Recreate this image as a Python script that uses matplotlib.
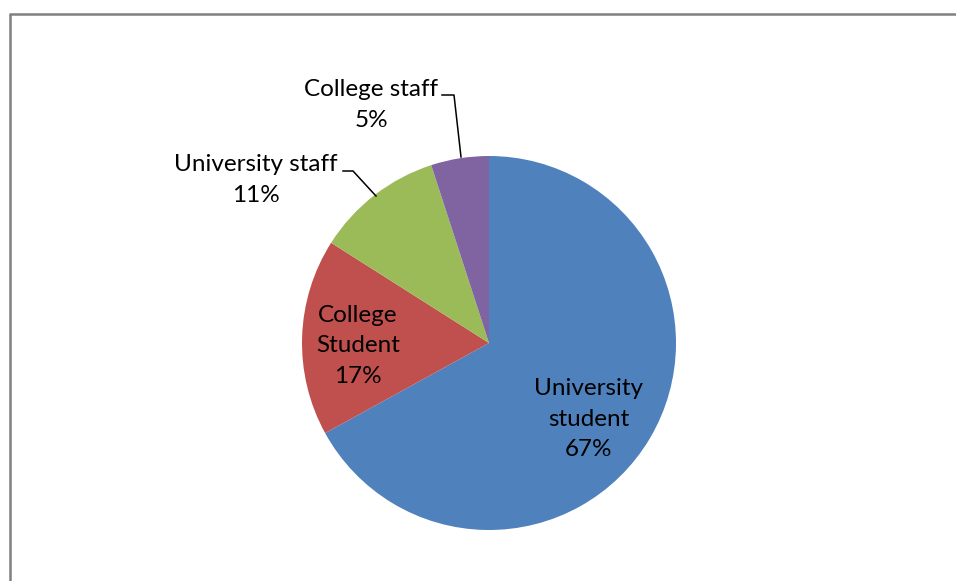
import matplotlib.pyplot as plt
import numpy as np

labels = ["University\nstudent", "College\nStudent", "University staff", "College staff"]
shares = [67, 17, 11, 5]
colors = ["#4F81BD", "#C0504D", "#9BBB59", "#8064A2"]

W, H = 956, 581
plt.rcParams["font.family"] = ["Lato", "DejaVu Sans"]

fig = plt.figure(figsize=(W / 100, H / 100), dpi=100)
ax = fig.add_axes([0, 0, 1, 1])

cx, cy, r = 489, H - 343, 187
wedges, _ = ax.pie(shares, colors=colors, startangle=90, counterclock=False,
                   center=(cx, cy), radius=r, frame=True,
                   wedgeprops={"linewidth": 0})
ax.set_xlim(0, W)
ax.set_ylim(0, H)
ax.set_aspect("equal")
ax.axis("off")

text_kw = dict(fontsize=17.5, ha="center", va="center", color="black", linespacing=1.56)

# labels inside the two big slices
ax.text(589, H - 419, f"{labels[0]}\n{shares[0]}%", **text_kw)
ax.text(358, H - 346, f"{labels[1]}\n{shares[1]}%", **text_kw)

# outside labels with leader lines
ax.text(256, H - 180, f"{labels[2]}\n{shares[2]}%", **text_kw)
ax.text(371, H - 105, f"{labels[3]}\n{shares[3]}%", **text_kw)

ax.plot([343, 353, 376], [H - 171, H - 171, H - 196], color="black", lw=1.1)
ax.plot([442, 454, 461], [H - 95, H - 95, H - 157], color="black", lw=1.1)

# chart area border (clipped at right and bottom)
ax.plot([10, 10], [0, H - 13.5], color="#808080", lw=1.8, solid_capstyle="butt")
ax.plot([9, W], [H - 13.5, H - 13.5], color="#808080", lw=1.8, solid_capstyle="butt")

fig.savefig("out.png", dpi=100)
